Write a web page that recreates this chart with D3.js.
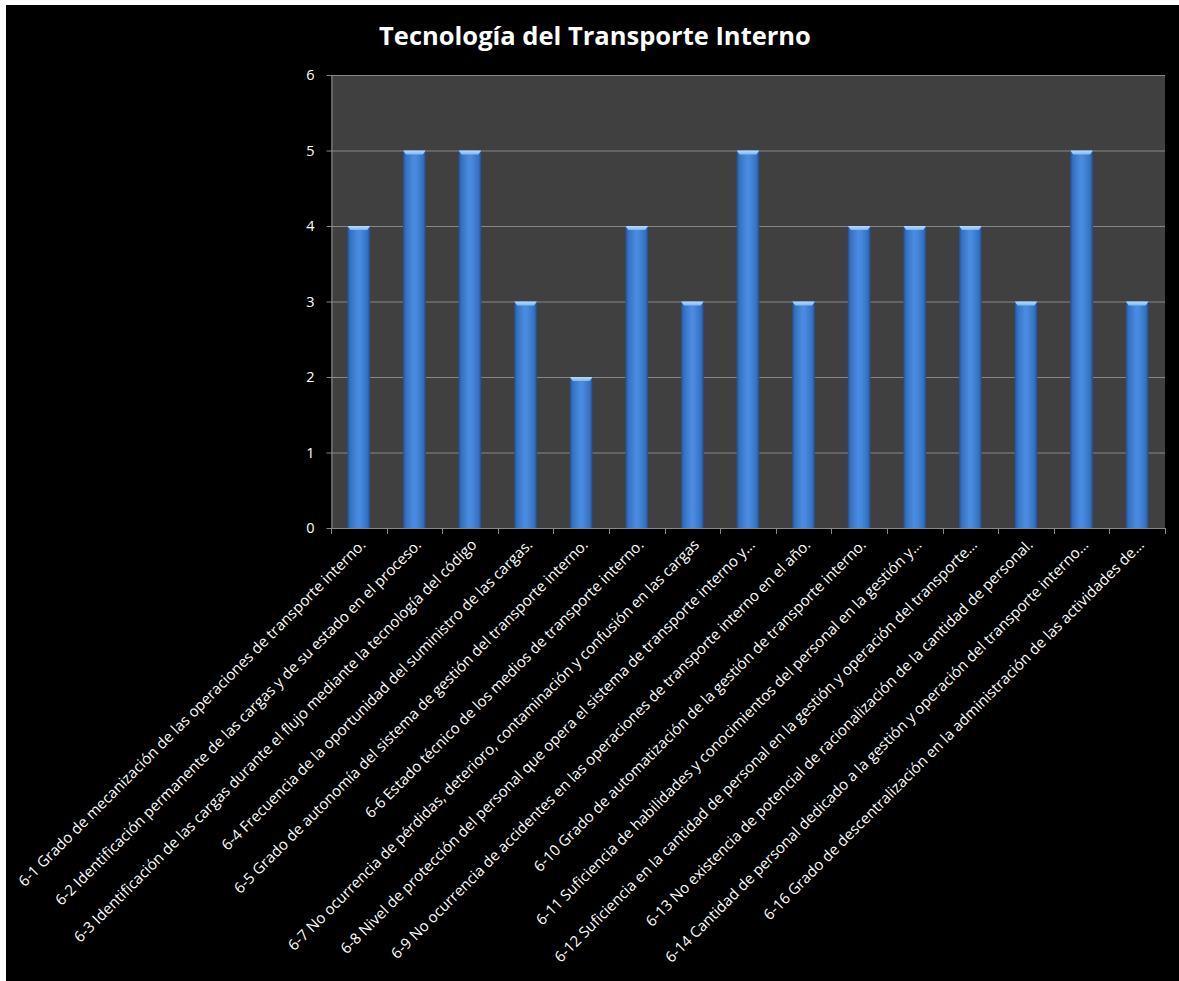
<!DOCTYPE html>
<html>
<head>
<meta charset="utf-8">
<script src="https://cdn.jsdelivr.net/npm/d3@7"></script>
<style>
  body { margin: 0; background: #ffffff; }
  svg { display: block; }
</style>
</head>
<body>
<svg></svg>
<script>
// chart data
const chartTitle = "Tecnología del Transporte Interno";

const categories = [
  "6-1 Grado de mecanización de las operaciones de transporte interno.",
  "6-2 Identificación permanente de las cargas y de su estado en el proceso.",
  "6-3 Identificación de las cargas durante el flujo mediante la tecnología del código",
  "6-4 Frecuencia de la oportunidad del suministro de las cargas.",
  "6-5 Grado de autonomía del sistema de gestión del transporte interno.",
  "6-6 Estado técnico de los medios de transporte interno.",
  "6-7 No ocurrencia de pérdidas, deterioro, contaminación y confusión en las cargas",
  "6-8 Nivel de protección del personal que opera el sistema de transporte interno y…",
  "6-9 No ocurrencia de accidentes en las operaciones de transporte interno en el año.",
  "6-10 Grado de automatización de la gestión de transporte interno.",
  "6-11 Suficiencia de habilidades y conocimientos del personal en la gestión y…",
  "6-12 Suficiencia en la cantidad de personal en la gestión y operación del transporte…",
  "6-13 No existencia de potencial de racionalización de la cantidad de personal.",
  "6-14 Cantidad de personal dedicado a la gestión y operación del transporte interno…",
  "6-16 Grado de descentralización en la administración de las actividades de…"
];

const values = [4, 5, 5, 3, 2, 4, 3, 5, 3, 4, 4, 4, 3, 5, 3];

const yTicks = [0, 1, 2, 3, 4, 5, 6];

const W = 1179, H = 981;
const font = "'Open Sans', Lato, sans-serif";
const svg = d3.select("svg").attr("width", W).attr("height", H);

// black chart area
svg.append("rect")
  .attr("x", 6).attr("y", 5)
  .attr("width", W - 6).attr("height", H - 5)
  .attr("fill", "#000000");

const plot = { left: 331, right: 1165, top: 75, bottom: 528 };

// x scale, bars centred in each slot
const x = d3.scaleBand()
  .domain(categories)
  .range([plot.left, plot.right])
  .paddingInner(0.59)
  .paddingOuter(0.295);

const y = d3.scaleLinear().domain([0, 6]).range([plot.bottom, plot.top]);

// gradients for the bevelled bars
const defs = svg.append("defs");
const barGrad = defs.append("linearGradient")
  .attr("id", "barGrad").attr("x1", "0%").attr("x2", "100%");
[["0%", "#264f8a"], ["12%", "#3470c0"], ["45%", "#4a8ce0"], ["60%", "#4688dc"], ["88%", "#3470c0"], ["100%", "#234a82"]]
  .forEach(s => barGrad.append("stop").attr("offset", s[0]).attr("stop-color", s[1]));

const capGrad = defs.append("linearGradient")
  .attr("id", "capGrad").attr("x1", "0%").attr("x2", "0%").attr("y1", "0%").attr("y2", "100%");
[["0%", "#b8dcff"], ["100%", "#7fb6ef"]]
  .forEach(s => capGrad.append("stop").attr("offset", s[0]).attr("stop-color", s[1]));

// plot background
svg.append("rect")
  .attr("x", plot.left).attr("y", plot.top)
  .attr("width", plot.right - plot.left).attr("height", plot.bottom - plot.top)
  .attr("fill", "#404040");

// gridlines
svg.append("g")
  .selectAll("line")
  .data(yTicks.filter(d => d > 0))
  .enter()
  .append("line")
  .attr("x1", plot.left).attr("x2", plot.right)
  .attr("y1", d => y(d) + 0.5).attr("y2", d => y(d) + 0.5)
  .attr("stroke", "#878787").attr("stroke-width", 1);

// bars
const bars = svg.append("g");
bars.selectAll("rect")
  .data(values)
  .enter()
  .append("rect")
  .attr("x", (d, i) => x(categories[i]))
  .attr("y", d => y(d))
  .attr("width", x.bandwidth())
  .attr("height", d => y(0) - y(d))
  .attr("fill", "url(#barGrad)");

// bevel cap on top of each bar
const capH = 4, capIn = 3;
bars.selectAll("path")
  .data(values)
  .enter()
  .append("path")
  .attr("d", (d, i) => {
    const x0 = x(categories[i]), x1 = x0 + x.bandwidth(), yt = y(d);
    return `M${x0},${yt}L${x1},${yt}L${x1 - capIn},${yt + capH}L${x0 + capIn},${yt + capH}Z`;
  })
  .attr("fill", "url(#capGrad)");

// y axis
const yAxis = svg.append("g")
  .attr("transform", `translate(${plot.left + 0.5},0)`)
  .call(d3.axisLeft(y).tickValues(yTicks).tickFormat(d3.format("d"))
    .tickSize(5).tickPadding(12).tickSizeOuter(0));
yAxis.select(".domain").attr("stroke", "#878787");
yAxis.selectAll(".tick line").attr("stroke", "#878787");
yAxis.selectAll(".tick text")
  .attr("fill", "#ffffff")
  .style("font-family", font)
  .style("font-size", "14.5px");

// x axis: ticks at slot boundaries
const step = x.step();
const boundaries = d3.range(categories.length + 1).map(i => plot.left + i * step);
svg.append("line")
  .attr("x1", plot.left).attr("x2", plot.right)
  .attr("y1", plot.bottom + 0.5).attr("y2", plot.bottom + 0.5)
  .attr("stroke", "#878787");
svg.append("g")
  .selectAll("line")
  .data(boundaries)
  .enter()
  .append("line")
  .attr("x1", d => Math.round(d) + 0.5).attr("x2", d => Math.round(d) + 0.5)
  .attr("y1", plot.bottom).attr("y2", plot.bottom + 6)
  .attr("stroke", "#878787");

// rotated category labels
svg.append("g")
  .selectAll("text")
  .data(categories)
  .enter()
  .append("text")
  .attr("transform", d => `translate(${x(d) + x.bandwidth() / 2 + 4},${plot.bottom + 14}) rotate(-45)`)
  .attr("text-anchor", "end")
  .attr("dy", "0.35em")
  .attr("fill", "#ffffff")
  .style("font-family", font)
  .style("font-size", "15px")
  .text(d => d);

// title
svg.append("text")
  .attr("x", 595).attr("y", 45)
  .attr("text-anchor", "middle")
  .attr("fill", "#ffffff")
  .style("font-family", font)
  .style("font-weight", "bold")
  .style("font-size", "25.5px")
  .text(chartTitle);
</script>
</body>
</html>
